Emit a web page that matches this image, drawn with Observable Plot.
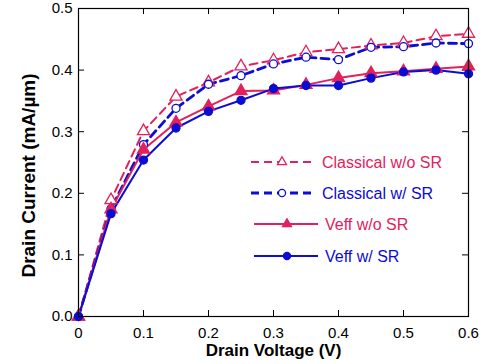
<!DOCTYPE html>
<html>
<head>
<meta charset="utf-8">
<script src="https://cdn.jsdelivr.net/npm/d3@7"></script>
<script src="https://cdn.jsdelivr.net/npm/@observablehq/plot@0.6"></script>
<style>
  html, body { margin: 0; padding: 0; background: #fff; }
  #wrap { position: relative; width: 482px; height: 364px; }
  #legend { position: absolute; left: 0; top: 0; pointer-events: none; }
</style>
</head>
<body>
<div id="wrap"></div>
<script>
// ---- data ----
const voltage = [0, 0.05, 0.1, 0.15, 0.2, 0.25, 0.3, 0.35, 0.4, 0.45, 0.5, 0.55, 0.6];
const classicalNoSR = [0, 0.189, 0.301, 0.357, 0.380, 0.406, 0.416, 0.429, 0.434, 0.440, 0.444, 0.455, 0.459];
const classicalSR   = [0, 0.175, 0.279, 0.338, 0.377, 0.391, 0.410, 0.421, 0.417, 0.437, 0.438, 0.444, 0.443];
const veffNoSR      = [0, 0.174, 0.271, 0.315, 0.341, 0.366, 0.367, 0.376, 0.387, 0.395, 0.398, 0.402, 0.406];
const veffSR        = [0, 0.167, 0.254, 0.306, 0.333, 0.351, 0.370, 0.375, 0.375, 0.387, 0.397, 0.400, 0.394];
const seriesNames = ["Classical w/o SR", "Classical w/ SR", "Veff w/o SR", "Veff w/ SR"];
const xTicks = [0, 0.1, 0.2, 0.3, 0.4, 0.5, 0.6];
const yTicks = [0, 0.1, 0.2, 0.3, 0.4, 0.5];
const xLabel = "Drain Voltage (V)";
const yLabel = "Drain Current (mA/\u00b5m)";

const PINK = "#e2215c";
const BLUE = "#0c0cd2";
const styles = [
  {color: PINK, dash: "8,5", width: 2, symbol: "triangle", filled: false},
  {color: BLUE, dash: "8,5", width: 2.8, symbol: "circle", filled: false},
  {color: PINK, dash: null, width: 2, symbol: "triangle", filled: true},
  {color: BLUE, dash: null, width: 2, symbol: "circle", filled: true}
];
const valuesList = [classicalNoSR, classicalSR, veffNoSR, veffSR];
const series = seriesNames.map((name, k) => ({
  name, ...styles[k],
  rows: voltage.map((v, i) => ({x: v, y: valuesList[k][i]}))
}));

const W = 482, H = 364, ML = 78, MR = 14, MT = 8, MB = 48;
const innerW = W - ML - MR, innerH = H - MT - MB, TICK = 6;

const marks = [
  Plot.ruleX(xTicks, {x: d => d, insetTop: innerH - TICK, stroke: "#000"}),
  Plot.ruleX(xTicks, {x: d => d, insetBottom: innerH - TICK, stroke: "#000"}),
  Plot.ruleY(yTicks, {y: d => d, insetRight: innerW - TICK, stroke: "#000"}),
  Plot.ruleY(yTicks, {y: d => d, insetLeft: innerW - TICK, stroke: "#000"}),
  Plot.axisX({ticks: xTicks, tickSize: 0, tickPadding: 11, label: null,
    tickFormat: d => d === 0 ? "0" : d3.format(".1f")(d), fontSize: 15}),
  Plot.axisY({ticks: yTicks, tickSize: 0, tickPadding: 6, label: null,
    tickFormat: d3.format(".1f"), fontSize: 15}),
  Plot.text([xLabel], {text: d => d, frameAnchor: "bottom", dy: 39, fontWeight: "bold", fontSize: 17}),
  Plot.text([yLabel], {text: d => d, frameAnchor: "left", textAnchor: "middle", dx: -50, dy: 13, rotate: -90, fontWeight: "bold", fontSize: 19})
];
for (const s of series) {
  marks.push(Plot.line(s.rows, {x: "x", y: "y", stroke: s.color, strokeWidth: s.width,
    strokeDasharray: s.dash || undefined}));
}
for (const s of series) {
  marks.push(Plot.dot(s.rows, {x: "x", y: "y", symbol: s.symbol, r: s.symbol === "triangle" ? 4.5 : 4,
    stroke: s.color, strokeWidth: 1.3, fill: s.filled ? s.color : "white"}));
}
marks.push(Plot.frame({stroke: "#000", strokeWidth: 1.2}));

const chart = Plot.plot({
  width: W, height: H, marginLeft: ML, marginRight: MR, marginTop: MT, marginBottom: MB,
  x: {domain: [0, 0.6]},
  y: {domain: [0, 0.5]},
  style: {fontFamily: "'Liberation Sans', Arial, sans-serif", fontSize: "15px", color: "#000", background: "#fff", overflow: "visible"},
  marks
});
const wrap = document.getElementById("wrap");
wrap.appendChild(chart);

// ---- legend overlay ----
const legendRows = [
  {y: 162, x1: 251, x2: 315, mx: 282, tx: 322},
  {y: 193, x1: 251, x2: 315, mx: 282, tx: 322},
  {y: 224, x1: 254, x2: 318, mx: 287, tx: 325},
  {y: 256, x1: 254, x2: 318, mx: 287, tx: 325}
];
const lg = d3.select(wrap).append("svg").attr("id", "legend").attr("width", W).attr("height", H);
series.forEach((s, k) => {
  const p = legendRows[k];
  const g = lg.append("g");
  g.append("line").attr("x1", p.x1).attr("x2", p.x2).attr("y1", p.y).attr("y2", p.y)
    .attr("stroke", s.color).attr("stroke-width", s.width)
    .attr("stroke-dasharray", s.dash ? s.dash : null);
  const sym = (s.symbol === "triangle" ? d3.symbolTriangle : d3.symbolCircle);
  const size = s.symbol === "triangle" ? 36 : 40;
  g.append("path").attr("d", d3.symbol(sym, size)()).attr("transform", `translate(${p.mx},${p.y})`)
    .attr("fill", s.filled ? s.color : "white").attr("stroke", s.color).attr("stroke-width", 1.3);
  g.append("text").attr("x", p.tx).attr("y", p.y).attr("dy", "0.35em")
    .attr("fill", s.color).attr("font-family", "'Liberation Sans', Arial, sans-serif")
    .attr("font-size", 16).text(s.name);
});
</script>
</body>
</html>
